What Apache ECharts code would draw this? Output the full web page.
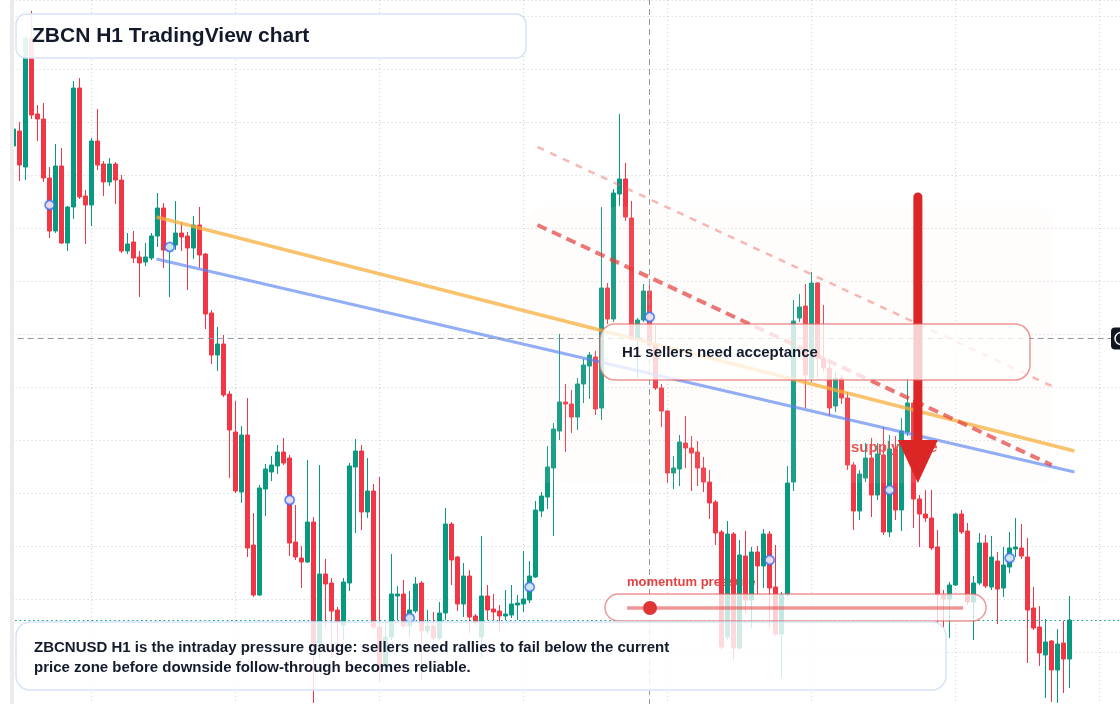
<!DOCTYPE html>
<html>
<head>
<meta charset="utf-8">
<script src="https://cdn.jsdelivr.net/npm/echarts@6.0.0/dist/echarts.min.js"></script>
<style>
  html, body { margin: 0; padding: 0; background: #fff; }
  #chart { width: 1120px; height: 704px; }
</style>
</head>
<body>
<div id="chart"></div>
<script>
  // H1 bars, index 0 sits on the first vertical grid line; prices in chart points
  const firstBar = -13;
  const opens = [
    559, 574, 538, 667, 591, 586, 527, 474, 539, 462,
    498, 617, 509, 500, 564, 541, 523, 541, 525, 454,
    463, 448, 443, 447, 469, 497, 455, 460, 472, 469,
    457, 480, 451, 392, 350, 361, 311, 273, 213, 270,
    160, 110, 216, 233, 239, 253, 247, 163, 147, 143,
    183, 62, 131, 122, 95, 80, 122, 238, 254, 193,
    214, 78, 38, 68, 109, 111, 79, 94, 122, 74,
    79, 67, 92, 181, 148, 101, 129, 89, 68, 109,
    96, 94, 89, 90, 100, 101, 105, 128, 194, 208,
    237, 274, 303, 301, 288, 321, 339, 348, 297, 417,
    386, 511, 526, 487, 367, 385, 414, 360, 317, 294,
    232, 236, 262, 257, 253, 237, 223, 203, 173, 68,
    171, 57, 149, 105, 153, 139, 171, 118, 71, 110,
    223, 387, 399, 327, 422, 347, 337, 299, 327, 307,
    240, 194, 227, 247, 210, 250, 173, 256, 195, 273,
    302, 206, 191, 187, 158, 110, 106, 120, 191, 174,
    103, 122, 162, 118, 144, 117, 138, 156, 157, 148,
    97, 78, 50, 64, 35, 62, 46
  ];
  const closes = [
    576, 540, 667, 590, 586, 527, 474, 539, 462, 498,
    617, 508, 500, 564, 540, 523, 541, 525, 454, 461,
    447, 442, 448, 469, 497, 455, 460, 472, 468, 457,
    480, 450, 391, 350, 361, 310, 275, 214, 270, 157,
    110, 217, 236, 240, 253, 242, 162, 148, 143, 183,
    62, 131, 121, 94, 83, 123, 239, 254, 193, 214,
    78, 38, 68, 111, 111, 79, 95, 121, 74, 79,
    67, 92, 181, 145, 101, 129, 88, 83, 109, 95,
    93, 89, 91, 101, 102, 106, 129, 195, 209, 238,
    276, 303, 301, 288, 321, 340, 350, 296, 417, 386,
    512, 526, 488, 367, 385, 414, 360, 317, 294, 232,
    237, 263, 257, 252, 237, 223, 202, 172, 58, 171,
    57, 150, 105, 153, 139, 171, 117, 71, 110, 222,
    384, 398, 330, 422, 347, 337, 297, 327, 307, 240,
    194, 231, 247, 210, 251, 173, 256, 195, 274, 302,
    206, 191, 187, 157, 110, 106, 120, 191, 173, 103,
    122, 162, 119, 148, 116, 140, 157, 158, 149, 95,
    77, 52, 63, 35, 61, 46, 85
  ];
  const lows = [
    558, 524, 525, 586, 564, 523, 467, 472, 461, 454,
    486, 506, 461, 479, 535, 509, 519, 501, 452, 451,
    442, 408, 439, 445, 458, 437, 408, 455, 454, 415,
    446, 437, 376, 341, 334, 308, 227, 212, 202, 148,
    108, 109, 189, 224, 231, 240, 149, 145, 117, 142,
    2, 47, 77, 47, 47, 65, 114, 172, 175, 187,
    76, 23, 35, 65, 85, 77, 68, 92, 25, 71,
    65, 65, 85, 120, 94, 88, 72, 80, 48, 85,
    85, 73, 85, 87, 85, 93, 102, 127, 188, 196,
    169, 265, 253, 272, 275, 302, 306, 290, 285, 381,
    383, 499, 484, 365, 327, 383, 357, 315, 278, 222,
    216, 219, 237, 214, 219, 213, 186, 160, 55, 65,
    45, 55, 92, 77, 110, 117, 77, 69, 27, 108,
    214, 383, 297, 323, 327, 333, 289, 293, 301, 235,
    175, 185, 223, 188, 205, 170, 168, 185, 174, 269,
    177, 158, 183, 155, 82, 77, 67, 119, 171, 100,
    65, 120, 117, 115, 81, 108, 132, 148, 146, 42,
    75, 39, 7, 3, 2, 12, 17
  ];
  const highs = [
    578, 583, 669, 694, 600, 602, 538, 561, 557, 499,
    624, 627, 515, 567, 596, 544, 547, 543, 530, 472,
    474, 454, 462, 472, 512, 502, 463, 504, 483, 473,
    489, 498, 452, 395, 378, 370, 314, 304, 279, 307,
    192, 220, 241, 249, 260, 267, 250, 200, 159, 245,
    188, 240, 146, 127, 98, 127, 242, 266, 260, 247,
    221, 228, 80, 151, 119, 125, 114, 128, 124, 95,
    93, 103, 197, 183, 149, 142, 135, 91, 169, 120,
    111, 100, 115, 120, 110, 154, 144, 204, 213, 259,
    282, 371, 321, 315, 327, 346, 353, 354, 498, 422,
    516, 591, 542, 504, 387, 421, 420, 380, 321, 295,
    249, 270, 289, 269, 264, 248, 235, 205, 175, 184,
    173, 165, 174, 158, 159, 176, 174, 160, 113, 239,
    405, 411, 421, 433, 423, 400, 343, 333, 330, 313,
    243, 235, 262, 267, 262, 278, 270, 269, 287, 327,
    305, 210, 215, 215, 175, 115, 123, 192, 195, 182,
    129, 172, 170, 169, 153, 158, 173, 187, 181, 167,
    118, 99, 86, 65, 76, 84, 109
  ];

  // blue pivot markers
  const markerBars = [-7, 13, 33, 53, 73, 93, 113, 133, 153];
  const markerValues = [500, 458, 205, 87, 118, 388, 145, 215, 147];

  // drawn trend lines, [bar, price]
  const orangeTrend = [[10.8, 488], [163.8, 254]];
  const blueTrend = [[10.8, 446], [163.8, 233]];
  const channelUpper = [[74.3, 558], [160, 319]];
  const channelLower = [[74.3, 480], [160, 240]];

  // supply zone box and arrow, [bar, price]
  const supplyZone = [[72.6, 498], [160.1, 222]];
  const arrowFrom = [137.7, 508];
  const arrowTo = [137.7, 222];

  const currentPrice = 85;
  const crossBar = 93;
  const crossPrice = 367;

  const FONT = '"Liberation Sans", Arial, Helvetica, sans-serif';
  const GREEN = '#089981';
  const RED = '#f23645';

  const candles = opens.map((o, i) => [firstBar + i, o, closes[i], lows[i], highs[i]]);
  const markers = markerBars.map((b, i) => [b, markerValues[i]]);

  const chart = echarts.init(document.getElementById('chart'));

  const gridLine = { show: true, lineStyle: { color: '#cdd1d8', width: 1, type: [1, 3] } };

  const trend = (data, color, width, type) => ({
    type: 'line',
    data: data,
    z: 4,
    symbol: 'none',
    silent: true,
    lineStyle: { color: color, width: width, type: type || 'solid' }
  });

  chart.setOption({
    animation: false,
    backgroundColor: '#ffffff',
    grid: { left: -52.33, right: -123.67, top: 0, bottom: -1, containLabel: false, outerBoundsMode: 'none' },
    xAxis: {
      type: 'value', min: -24, max: 192, interval: 24,
      axisLine: { show: false }, axisTick: { show: false }, axisLabel: { show: false },
      splitLine: gridLine
    },
    yAxis: {
      type: 'value', min: 0, max: 705, interval: 53,
      axisLine: { show: false }, axisTick: { show: false }, axisLabel: { show: false },
      splitLine: gridLine
    },
    series: [
      {
        name: 'crosshair',
        type: 'scatter',
        data: [],
        z: 1,
        markLine: {
          silent: true, symbol: 'none', label: { show: false },
          lineStyle: { color: '#9598a1', width: 1, type: [6, 4] },
          data: [{ xAxis: crossBar }, { yAxis: crossPrice }]
        }
      },
      {
        name: 'ZBCNUSD',
        type: 'candlestick',
        data: candles,
        z: 2,
        barWidth: 4,
        itemStyle: { color: GREEN, color0: RED, borderColor: GREEN, borderColor0: RED, borderWidth: 1 },
        markLine: {
          silent: true, symbol: 'none', label: { show: false },
          lineStyle: { color: GREEN, width: 1.2, type: [1.5, 3] },
          data: [{ yAxis: currentPrice }]
        }
      },
      trend(orangeTrend, 'rgba(247,173,60,0.75)', 3.5),
      trend(blueTrend, 'rgba(88,130,240,0.65)', 3),
      trend(channelUpper, 'rgba(235,95,95,0.45)', 2.5, [7, 7]),
      trend(channelLower, 'rgba(225,60,60,0.7)', 4, [10, 6]),
      {
        name: 'pivots',
        type: 'scatter',
        data: markers,
        z: 5,
        symbol: 'circle',
        symbolSize: 9,
        silent: true,
        itemStyle: {
          color: '#ffffff', borderColor: '#3a6ff0', borderWidth: 1.6,
          shadowBlur: 2, shadowColor: 'rgba(58,111,240,0.35)'
        }
      }
    ]
  });

  // annotations: zone and arrow follow the chart scales, boxes sit in page space
  const px = (p) => chart.convertToPixel({ gridIndex: 0 }, p);
  const z0 = px(supplyZone[0]);
  const z1 = px(supplyZone[1]);
  const a0 = px(arrowFrom);
  const a1 = px(arrowTo);
  const headLen = 43, headHalf = 20;

  const boxStyle = (fill, stroke) => ({ fill: fill, stroke: stroke, lineWidth: 1.5 });
  const label = (text, x, y, size, color, z) => ({
    type: 'text', z: z, silent: true,
    style: { text: text, x: x, y: y, font: 'bold ' + size + 'px ' + FONT, fill: color, verticalAlign: 'middle' }
  });

  chart.setOption({
    graphic: [
      label('supply zone', 851, 448, 15, 'rgba(226,50,50,0.9)', 1),
      label('momentum pressure', 627, 582, 13, 'rgba(226,50,50,0.92)', 1),
      {
        type: 'rect', z: 3, silent: true,
        shape: { x: z0[0], y: z0[1], width: z1[0] - z0[0], height: z1[1] - z0[1], r: 14 },
        style: { fill: 'rgba(250,228,214,0.09)' }
      },
      {
        type: 'line', z: 6, silent: true,
        shape: { x1: a0[0], y1: a0[1], x2: a1[0], y2: a1[1] - headLen + 4 },
        style: { stroke: '#dc2626', lineWidth: 9, lineCap: 'round' }
      },
      {
        type: 'polygon', z: 6, silent: true,
        shape: { points: [[a1[0] - headHalf, a1[1] - headLen], [a1[0] + headHalf, a1[1] - headLen], [a1[0], a1[1]]] },
        style: { fill: '#dc2626' }
      },
      {
        type: 'rect', z: 7, silent: true,
        shape: { x: 600, y: 324, width: 430, height: 56, r: 15 },
        style: boxStyle('rgba(255,255,255,0.78)', 'rgba(228,96,96,0.65)')
      },
      label('H1 sellers need acceptance', 622, 353, 15, '#131b2c', 8),
      {
        type: 'rect', z: 7, silent: true,
        shape: { x: 605, y: 594, width: 381, height: 27, r: 13.5 },
        style: boxStyle('rgba(255,255,255,0.76)', 'rgba(228,96,96,0.65)')
      },
      {
        type: 'line', z: 8, silent: true,
        shape: { x1: 627, y1: 608, x2: 963, y2: 608 },
        style: { stroke: 'rgba(230,80,80,0.6)', lineWidth: 3.5 }
      },
      {
        type: 'circle', z: 8, silent: true,
        shape: { cx: 650, cy: 608, r: 7 },
        style: { fill: '#e03535' }
      },
      {
        type: 'rect', z: 7, silent: true,
        shape: { x: 16, y: 622, width: 930, height: 68, r: 14 },
        style: boxStyle('rgba(255,255,255,0.82)', '#d6e3f8')
      },
      label('ZBCNUSD H1 is the intraday pressure gauge: sellers need rallies to fail below the current', 34, 648, 15, '#131b2c', 8),
      label('price zone before downside follow-through becomes reliable.', 34, 668, 15, '#131b2c', 8),
      {
        type: 'rect', z: 7, silent: true,
        shape: { x: 16, y: 14, width: 510, height: 44, r: 10 },
        style: boxStyle('rgba(255,255,255,0.9)', '#d6e3f8')
      },
      label('ZBCN H1 TradingView chart', 32, 36, 21, '#121a2b', 8),
      {
        type: 'rect', z: 10, silent: true,
        shape: { x: 0, y: 0, width: 10, height: 704 },
        style: { fill: '#ffffff' }
      },
      {
        type: 'rect', z: 10, silent: true,
        shape: { x: 10, y: 0, width: 4, height: 704 },
        style: { fill: '#ebebeb' }
      },
      {
        type: 'rect', z: 10, silent: true,
        shape: { x: 1111, y: 327.5, width: 20, height: 22, r: 4 },
        style: { fill: '#131722' }
      },
      {
        type: 'circle', z: 11, silent: true,
        shape: { cx: 1121, cy: 338.5, r: 6 },
        style: { fill: 'none', stroke: '#ffffff', lineWidth: 1.5 }
      }
    ]
  });

  window.addEventListener('resize', () => chart.resize());
</script>
</body>
</html>
